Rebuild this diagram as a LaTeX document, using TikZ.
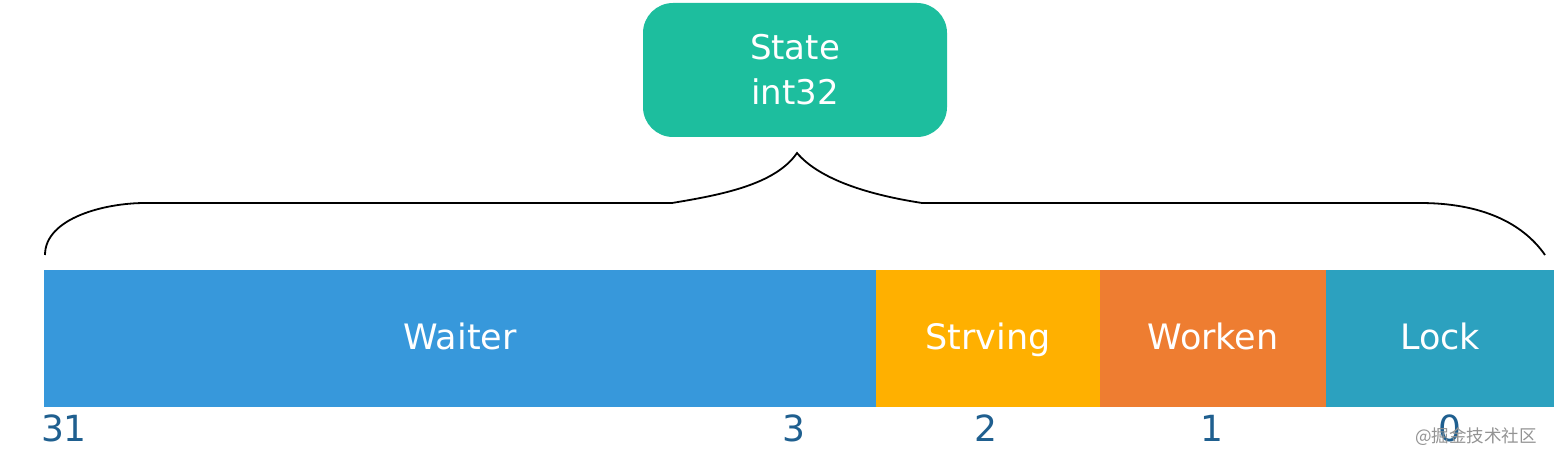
\documentclass[tikz,border=0pt]{standalone}
\usepackage{fontspec}
\setmainfont{DejaVu Sans}
\newfontfamily\cjkfont{Noto Sans CJK SC}
\definecolor{boxgreen}{HTML}{1DBE9E}
\definecolor{cwaiter}{HTML}{3798DB}
\definecolor{cstrv}{HTML}{FFB000}
\definecolor{cwork}{HTML}{EE7D31}
\definecolor{clock}{HTML}{2CA1BF}
\definecolor{numblue}{HTML}{1F5F8F}
\begin{document}
\begin{tikzpicture}[x=1pt,y=-1pt,
  bar/.style={draw=none,minimum height=137pt,inner sep=0pt,text=white,
    text height=25.5pt,text depth=4.5pt,
    font=\fontsize{35}{35}\selectfont},
  num/.style={text=numblue,inner sep=0pt,font=\fontsize{36}{36}\selectfont},
  bracepath/.style={line width=1.8pt,black}]
\useasboundingbox (0,0) rectangle (1554,462);
\node[fill=boxgreen,rounded corners=30pt,minimum width=304pt,minimum height=134pt,
  inner sep=0pt,text=white,align=center,font=\fontsize{34}{45}\selectfont]
  (state) at (795,70) {State\\int32};
\node[bar,fill=cwaiter,minimum width=832pt] (waiter) at (460,338.5) {Waiter};
\node[bar,fill=cstrv,minimum width=224pt] (strv) at (988,338.5) {Strving};
\node[bar,fill=cwork,minimum width=226pt] (work) at (1213,338.5) {Worken};
\node[bar,fill=clock,minimum width=228pt] (lock) at (1440,338.5) {Lock};
\node[num] (n31) at (64,428) {31};
\node[num] (n3) at (794,428) {3};
\node[num] (n2) at (986,428) {2};
\node[num] (n1) at (1212,428) {1};
\node[num] (n0) at (1450,428) {0};
\node[text=gray!85,inner sep=0pt,font=\cjkfont\fontsize{17.5}{17.5}\selectfont]
  (wm) at (1476,437) {@掘金技术社区};
\draw[bracepath] (45,255) .. controls (45,218) and (105,203) .. (145,203)
  -- (672,203) .. controls (720,195) and (775,185) .. (797,153)
  .. controls (820,180) and (870,195) .. (922,203)
  -- (1420,203) .. controls (1480,203) and (1522,222) .. (1545,255);
\end{tikzpicture}
\end{document}
